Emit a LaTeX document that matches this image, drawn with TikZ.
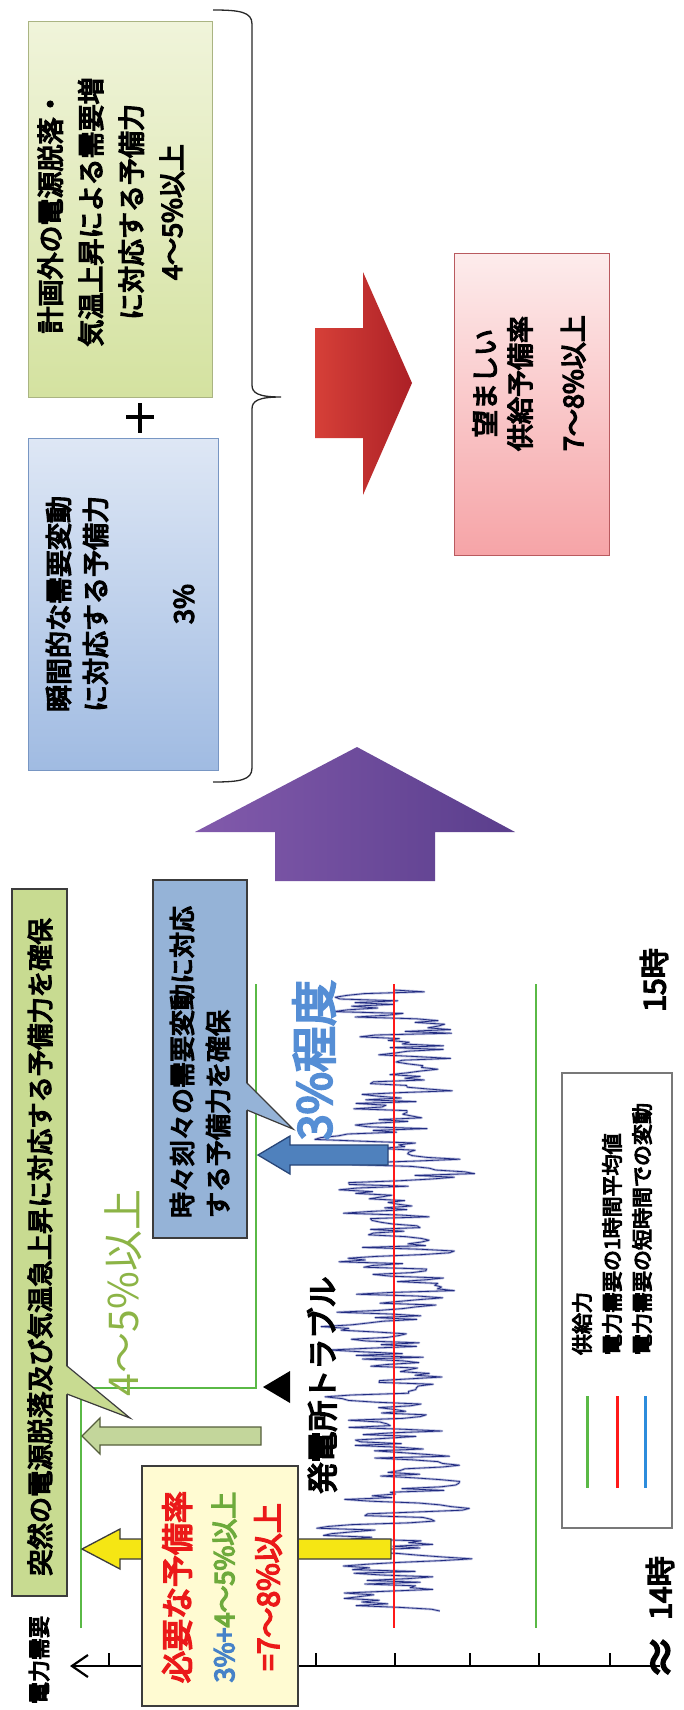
\documentclass[tikz,border=0pt]{standalone}
\usepackage{fontspec}
\setmainfont{Noto Sans CJK JP}
\newfontfamily\jpr{Noto Sans CJK JP}
\newfontfamily\jpb{Noto Sans CJK JP}[FakeBold=5]
\usetikzlibrary{arrows.meta}
\newcommand{\fz}[2]{\fontsize{#1pt}{#2pt}\selectfont}
\definecolor{gtopL}{RGB}{240,244,218}
\definecolor{gtopR}{RGB}{212,226,160}
\definecolor{gedge}{RGB}{170,180,130}
\definecolor{btopL}{RGB}{222,231,245}
\definecolor{btopR}{RGB}{160,187,226}
\definecolor{bedge}{RGB}{120,150,195}
\definecolor{ptopL}{RGB}{253,236,236}
\definecolor{ptopR}{RGB}{246,164,167}
\definecolor{pedge}{RGB}{185,90,95}
\definecolor{redL}{RGB}{214,64,56}
\definecolor{redR}{RGB}{172,32,38}
\definecolor{purL}{RGB}{130,90,172}
\definecolor{purR}{RGB}{90,62,140}
\definecolor{chgreen}{RGB}{90,185,70}
\definecolor{chred}{RGB}{255,25,25}
\definecolor{legblue}{RGB}{45,140,220}
\definecolor{noiseL}{RGB}{185,190,222}
\definecolor{noiseD}{RGB}{35,45,130}
\definecolor{glab}{RGB}{200,219,145}
\definecolor{blab}{RGB}{149,179,215}
\definecolor{yfill}{RGB}{255,251,210}
\definecolor{yarrow}{RGB}{245,230,20}
\definecolor{lgreen}{RGB}{195,214,155}
\definecolor{ldgreen}{RGB}{85,95,60}
\definecolor{darrow}{RGB}{79,129,189}
\definecolor{darrowedge}{RGB}{40,70,120}
\definecolor{darkedge}{RGB}{60,60,60}
\definecolor{legedge}{RGB}{120,120,120}
\definecolor{bigGreen}{RGB}{140,180,70}
\definecolor{bigBlue}{RGB}{85,142,213}
\definecolor{needred}{RGB}{235,25,25}
\definecolor{needblue}{RGB}{70,130,200}
\definecolor{needgreen}{RGB}{110,170,60}
\definecolor{bracecol}{RGB}{40,40,40}
\begin{document}
\begin{tikzpicture}[x=1pt,y=-1pt,
  every node/.style={inner sep=0pt,outer sep=0pt},
  rt/.style={rotate=90},
  chartbox/.style={rotate=90, draw=darkedge, line width=1.3pt},
  gline/.style={draw=chgreen, line width=2pt},
  tick/.style={draw=black, line width=1.5pt},
  legline/.style={line width=3pt}
]
\useasboundingbox (0,0) rectangle (684,1710);
\fill[white] (0,0) rectangle (684,1710);

% ---------- upper part ----------
\coordinate (bracetip) at (281,397);
\draw[line width=1.3pt, draw=bracecol] (213,10) .. controls (240,10) and (252,12) .. (252,24) -- (252,385) .. controls (252,393) and (258,397) .. (bracetip) .. controls (258,397) and (252,401) .. (252,409) -- (252,768) .. controls (252,780) and (240,782) .. (213,782);

\node[rt, minimum width=375pt, minimum height=184pt, draw=gedge, line width=1pt, top color=gtopL, bottom color=gtopR] (planbox) at (120,209.5) {};
\node[rt, align=center, font={\jpb\fz{27}{40.5}}] (plantext) at (111,212) {計画外の電源脱落・\\気温上昇による需要増\\に対応する予備力\\4～5\%以上};

\draw[line width=4pt] (140,403) -- (140,433);
\draw[line width=4pt] (126,417) -- (154,417);

\node[rt, minimum width=332pt, minimum height=190pt, draw=bedge, line width=1pt, top color=btopL, bottom color=btopR] (instbox) at (123,604) {};
\node[rt, align=center, font={\jpb\fz{27}{37}}] (insttext) at (120,604) {瞬間的な需要変動\\に対応する予備力\\[51pt]3\%};

\shade[left color=redL, right color=redR] (315,328) -- (363,328) -- (363,272) -- (412,383) -- (363,495) -- (363,438) -- (315,438) -- cycle;

\node[rt, minimum width=302pt, minimum height=155pt, draw=pedge, line width=1pt, top color=ptopL, bottom color=ptopR] (wantbox) at (531.5,404) {};
\node[rt, anchor=west, align=left, font={\jpb\fz{27}{35}}] (wanttext) at (529,451) {\hspace*{14pt}望ましい\\供給予備率\\[18pt]7～8\%以上};

\shade[left color=purL, right color=purR] (357,747) -- (515,832) -- (435,832) -- (435,881) -- (275,881) -- (275,832) -- (195,832) -- cycle;

% ---------- chart ----------
\draw[gline] (81,1628) -- (81,1388) -- (256,1388) -- (256,984);
\draw[gline] (536,984) -- (536,1628);

\pgfmathsetseed{31}
\gdef\nzpath{}
\gdef\nzdev{0}
\foreach \k in {1,...,345}{
  \pgfmathsetmacro\nzd{max(-118,min(122,0.55*\nzdev+52*rand))}
  \pgfmathsetmacro\nzy{990+1.8*\k}
  \pgfmathsetmacro\nzx{394+\nzd}
  \xdef\nzdev{\nzd}
  \xdef\nzpath{\nzpath -- (\nzx,\nzy)}
}
\draw[line width=2.4pt, draw=noiseL, line join=round] (394,990) \nzpath;
\draw[line width=0.8pt, draw=noiseD, line join=round] (394,990) \nzpath;

\draw[draw=chred, line width=2.5pt] (394,984) -- (394,1628);

% axis
\coordinate (axT) at (70,1666);
\coordinate (axE) at (660,1666);
\draw[line width=2.2pt, {Straight Barb[length=16pt,width=22pt]}-] (axT) -- (axE);
\foreach \tx in {109,316,395,470,539,610}{\draw[tick] (\tx,1653) -- (\tx,1666);}
\node[rt, font={\jpb\fz{44}{44}}] (brk) at (664,1657) {≈};

% arrows
\draw[draw=ldgreen, fill=lgreen, line width=1.3pt] (82,1436) -- (100,1418) -- (100,1427) -- (261,1427) -- (261,1445) -- (100,1445) -- (100,1454) -- cycle;
\draw[draw=darkedge, fill=yarrow, line width=1.3pt] (82,1549) -- (120,1529) -- (120,1539) -- (391,1539) -- (391,1559) -- (120,1559) -- (120,1569) -- cycle;
\draw[draw=darrowedge, fill=darrow, line width=1.3pt] (258,1155) -- (290,1136) -- (290,1145) -- (388,1145) -- (388,1165) -- (290,1165) -- (290,1174) -- cycle;
\fill[black] (263,1387) -- (290,1371) -- (290,1403) -- cycle;

% boxes
\node[chartbox, minimum width=707pt, minimum height=55pt, fill=glab] (suddenbox) at (39.5,1242.5) {};
\fill[glab] (66,1366) -- (130,1418) -- (66,1394) -- cycle;
\draw[darkedge, line width=1.2pt] (67,1366) -- (130,1418) -- (67,1394);
\node[rt, font={\jpb\fz{26.3}{30}}] (suddentext) at (40,1247) {突然の電源脱落及び気温急上昇に対応する予備力を確保};

\node[chartbox, minimum width=358pt, minimum height=94pt, fill=blab] (momentbox) at (200,1059) {};
\fill[blab] (246,1083) -- (293,1129) -- (246,1110) -- cycle;
\draw[darkedge, line width=1.2pt] (247,1083) -- (293,1129) -- (247,1110);
\node[rt, align=left, font={\jpb\fz{26}{36}}] (momenttext) at (200,1062) {時々刻々の需要変動に対応\\する予備力を確保};

\node[chartbox, minimum width=240pt, minimum height=156pt, fill=yfill] (needbox) at (220,1586) {};
\node[rt, align=center, font={\jpb\fz{30}{45}}] (needtext) at (222,1587) {{\color{needred}\fz{32}{45}必要な予備率}\\{\fz{27}{45}\color{needblue}3\%+\color{needgreen}4～5\%以上}\\{\color{needred}=7～8\%以上}};

\node[rt, font={\jpr\fz{41}{41}}, text=bigGreen] (pct45) at (123,1293) {4～5\%以上};
\node[rt, font={\jpb\fz{46}{46}}, text=bigBlue] (pct3) at (314,1060) {3\%程度};
\node[rt, font={\jpb\fz{31}{31}}] (trouble) at (322,1385) {発電所トラブル};

% legend
\node[rt, minimum width=455pt, minimum height=110pt, draw=legedge, line width=1.5pt, fill=white] (legendbox) at (617,1300.5) {};
\draw[legline, chgreen] (587,1396) -- (587,1488);
\draw[legline, chred] (617,1396) -- (617,1488);
\draw[legline, legblue] (645,1396) -- (645,1488);
\node[rt, align=left, font={\jpb\fz{21}{30}}] (legendtext) at (612,1229) {供給力\\電力需要の1時間平均値\\電力需要の短時間での変動};

\node[rt, font={\jpb\fz{30}{30}}] (t15) at (654,980) {15時};
\node[rt, font={\jpb\fz{30}{30}}] (t14) at (660,1588) {14時};
\node[rt, font={\jpb\fz{22}{22}}] (ylabel) at (39,1660) {電力需要};
\end{tikzpicture}
\end{document}
